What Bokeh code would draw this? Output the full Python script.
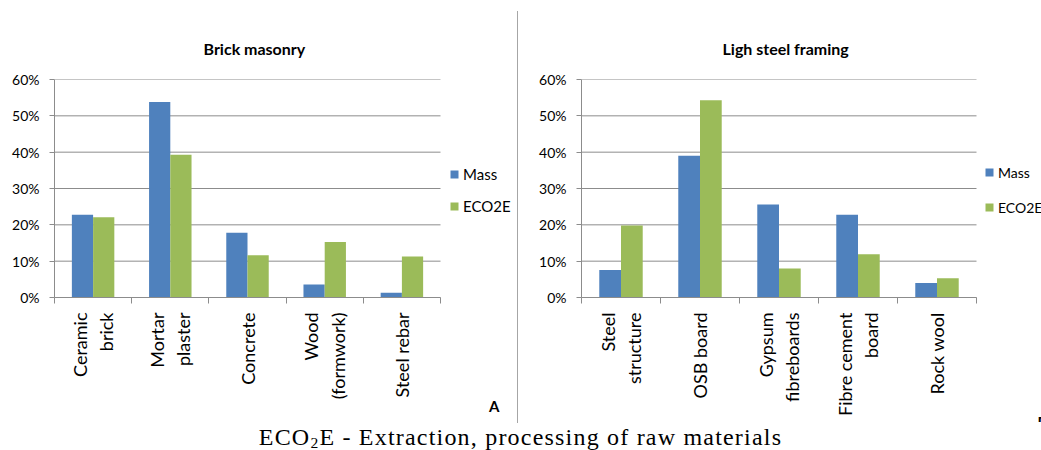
import math
from bokeh.plotting import figure
from bokeh.models import (Range1d, LinearAxis, FixedTicker, Title,
                          PrintfTickFormatter, Legend, LegendItem, Div, ColumnDataSource)
from bokeh.layouts import row, column
from bokeh.embed import file_html
from bokeh.resources import INLINE

series = ["Mass", "ECO2E"]
colors = ["#4F81BD", "#9BBB59"]
y_ticks = [0, 10, 20, 30, 40, 50, 60]

brick_materials = ["Ceramic\nbrick", "Mortar\nplaster", "Concrete", "Wood\n(formwork)", "Steel rebar"]
brick_mass = [22.8, 53.8, 17.8, 3.6, 1.3]
brick_eco2e = [22.1, 39.3, 11.6, 15.3, 11.3]

lsf_materials = ["Steel\nstructure", "OSB board", "Gypsum\nfibreboards", "Fibre cement\nboard", "Rock wool"]
lsf_mass = [7.6, 39.0, 25.6, 22.8, 4.0]
lsf_eco2e = [19.8, 54.3, 8.0, 11.9, 5.3]

GRID = "#8C8C8C"
FONT = "Lato"
BAR_W = 0.275


def panel(title, cats, mass, eco, width, bl, plot_w, title_off, legend_xy, spacing, legend_fs,
          tag, tag_off):
    n = len(cats)
    frame_w = width - bl
    x_end = n * frame_w / plot_w  # the frame also holds the legend area to the right
    centers = [i + 0.5 for i in range(n)]
    src = ColumnDataSource(dict(x=centers, mass=mass, eco=eco,
                                xm=[c - BAR_W / 2 for c in centers],
                                xe=[c + BAR_W / 2 for c in centers]))
    p = figure(x_range=Range1d(0, x_end), y_range=Range1d(0, 60),
               width=width, height=422, output_backend="svg", toolbar_location=None,
               x_axis_location=None, min_border_left=bl, min_border_right=0,
               min_border_top=79, min_border_bottom=123)
    p.outline_line_color = None
    p.background_fill_color = "white"
    p.border_fill_color = "white"

    p.title.text = title
    p.title.align = "left"
    p.title.vertical_align = "top"
    p.title.offset = title_off
    p.title.standoff = 40
    p.title.text_font = FONT
    p.title.text_font_style = "bold"
    p.title.text_font_size = "16px"
    p.title.text_color = "black"

    p.xgrid.grid_line_color = None
    p.ygrid.grid_line_color = None
    p.segment(x0=[0] * len(y_ticks), x1=[n] * len(y_ticks), y0=y_ticks, y1=y_ticks,
              line_color=GRID, line_width=1)

    r1 = p.vbar(x="xm", top="mass", width=BAR_W, source=src,
                fill_color=colors[0], line_color=None)
    r2 = p.vbar(x="xe", top="eco", width=BAR_W, source=src,
                fill_color=colors[1], line_color=None)

    ya = p.yaxis[0]
    ya.ticker = FixedTicker(ticks=y_ticks)
    ya.formatter = PrintfTickFormatter(format="%d%%")
    ya.axis_line_color = GRID
    ya.major_tick_line_color = GRID
    ya.major_tick_in = 0
    ya.major_tick_out = 5
    ya.minor_tick_line_color = None
    ya.major_label_standoff = 10
    ya.major_label_text_font = FONT
    ya.major_label_text_font_size = "14px"
    ya.major_label_text_color = "black"

    xa = LinearAxis(ticker=FixedTicker(ticks=centers, minor_ticks=list(range(n + 1))),
                    bounds=(0, n),
                    major_label_overrides={c: lab for c, lab in zip(centers, cats)},
                    major_tick_line_color=None, major_tick_in=0, major_tick_out=6,
                    minor_tick_line_color=GRID, minor_tick_in=0, minor_tick_out=6,
                    axis_line_color=GRID, major_label_orientation=math.pi / 2,
                    major_label_standoff=9, major_label_text_font=FONT,
                    major_label_text_font_size="18px", major_label_text_color="black")
    p.add_layout(xa, "below")

    legend = Legend(items=[LegendItem(label=series[0], renderers=[r1]),
                           LegendItem(label=series[1], renderers=[r2])],
                    location=legend_xy, orientation="vertical", glyph_width=10, glyph_height=10,
                    label_height=20, spacing=spacing, padding=0, margin=0,
                    border_line_color=None, background_fill_alpha=0, label_standoff=4,
                    label_text_font=FONT, label_text_font_size=legend_fs, label_text_color="black")
    p.add_layout(legend, "center")

    p.add_layout(Title(text=tag, align="right", offset=tag_off, standoff=-16,
                       text_font=FONT, text_font_style="bold", text_font_size="15px",
                       text_color="black"), "below")
    return p


p1 = panel("Brick masonry", brick_materials, brick_mass, brick_eco2e,
           517, 54, 386, 149, (395, 81), 12, "15px", "A", 18)
p2 = panel("Ligh steel framing", lsf_materials, lsf_mass, lsf_eco2e,
           523, 63, 395, 141, (403, 80), 15, "14px", "B", -6)

sep = Div(text="", width=1, height=412, margin=(11, 0, 0, 0), styles={"background-color": "#A6A6A6"})
caption = Div(text='ECO<sub style="font-size:0.65em;vertical-align:-0.2em">2</sub>E - Extraction, processing of raw materials',
              width=1041, height=28, margin=0,
              styles={"text-align": "center", "font-family": "Liberation Serif", "font-size": "24px",
                      "letter-spacing": "1.2px", "line-height": "28px", "overflow": "hidden",
                      "color": "black"})

layout = column(row(p1, sep, p2, spacing=0), caption, spacing=0)

open("out.html", "w").write(file_html(layout, INLINE))
